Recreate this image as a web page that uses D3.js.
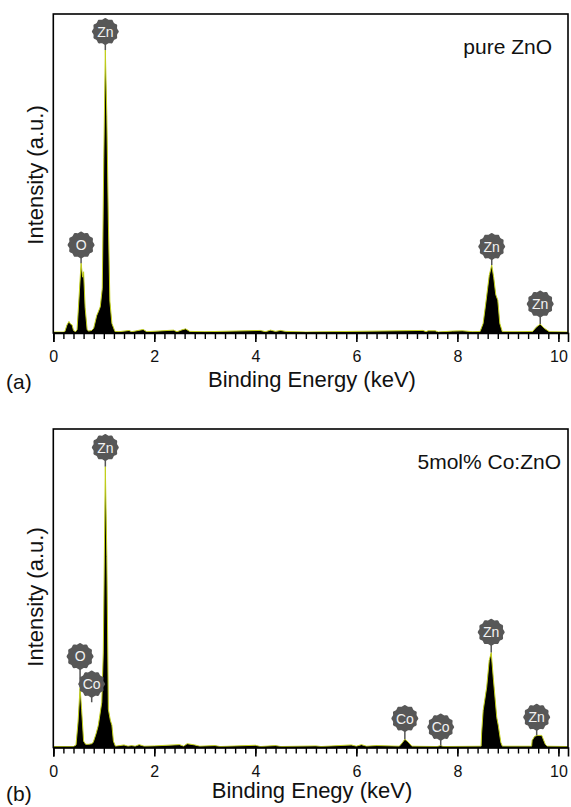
<!DOCTYPE html>
<html>
<head>
<meta charset="utf-8">
<script src="https://cdn.jsdelivr.net/npm/d3@7"></script>
<style>
body { margin: 0; background: #fff; }
svg text { font-family: "Liberation Sans", Arial, sans-serif; fill: #111; }
</style>
</head>
<body>
<svg id="chart" width="571" height="807"></svg>
<script>
// EDS spectrum (a) pure ZnO : energy in keV, intensity in a.u. (0-100 of the frame)
const energyA = [0.00, 0.20, 0.23, 0.27, 0.31, 0.34, 0.37, 0.40, 0.44, 0.47, 0.49, 0.55, 0.58, 0.60, 0.63, 0.67,
    0.70, 0.76, 0.80, 0.86, 0.89, 0.93, 0.97, 1.00, 1.03, 1.06, 1.09, 1.12, 1.16, 1.22, 1.30, 1.50, 1.55,
    1.78, 1.85, 2.38, 2.45, 2.55, 2.62, 2.70, 3.00, 4.10, 4.20, 4.30, 4.40, 4.50, 4.60, 5.00, 7.32, 7.38,
    7.42, 7.56, 7.62, 7.90, 8.10, 8.30, 8.45, 8.51, 8.57, 8.63, 8.68, 8.72, 8.76, 8.80, 8.84, 8.89, 9.20,
    9.49, 9.56, 9.64, 9.72, 9.82, 10.19];
const countsA = [0.3, 0.3, 0.5, 2.5, 3.6, 2.8, 2.6, 0.8, 0.4, 1.0, 6.0, 21.9, 17.5, 19.2, 8.0, 1.0,
    0.6, 0.8, 1.5, 5.5, 6.6, 8.2, 14.0, 55.0, 88.7, 68.0, 35.0, 10.0, 3.0, 0.5, 0.4, 0.8, 0.4,
    1.1, 0.4, 0.9, 0.4, 1.0, 1.3, 0.5, 0.4, 0.8, 0.4, 0.9, 0.5, 0.8, 0.5, 0.3, 0.8, 0.4,
    0.7, 0.7, 0.3, 0.6, 0.7, 0.4, 0.5, 3.0, 10.3, 18.0, 21.3, 17.3, 12.0, 10.3, 3.0, 0.4, 0.4,
    0.5, 1.8, 2.8, 1.5, 0.4, 0.3];

// EDS spectrum (b) 5mol% Co:ZnO
const energyB = [0.00, 0.40, 0.45, 0.49, 0.53, 0.56, 0.60, 0.64, 0.70, 0.76, 0.79, 0.85, 0.89, 0.92, 0.96,
    0.99, 1.03, 1.06, 1.09, 1.13, 1.16, 1.19, 1.23, 1.40, 1.48, 1.55, 1.62, 1.70, 1.80, 2.00, 2.50, 2.58,
    2.65, 2.80, 2.90, 3.20, 3.30, 4.00, 4.10, 4.40, 4.50, 5.20, 5.30, 5.90, 6.00, 6.10, 6.20, 6.40, 6.85,
    6.91, 6.96, 7.02, 7.10, 7.60, 7.67, 7.72, 8.47, 8.48, 8.51, 8.58, 8.63, 8.67, 8.71, 8.78, 8.81, 8.86,
    8.89, 9.47, 9.48, 9.53, 9.58, 9.67, 9.74, 9.78, 10.19];
const countsB = [0.3, 0.3, 0.8, 8.0, 18.8, 12.0, 2.0, 1.0, 1.0, 1.2, 1.6, 4.5, 6.9, 10.0, 14.2,
    30.0, 88.2, 60.0, 12.0, 8.5, 7.0, 2.0, 0.4, 0.8, 0.4, 0.6, 0.4, 0.9, 0.4, 0.5, 0.9, 0.4,
    1.2, 0.8, 0.4, 0.6, 0.3, 0.7, 0.3, 0.6, 0.3, 0.5, 0.3, 0.8, 0.4, 0.9, 0.4, 0.6, 0.4,
    1.5, 2.6, 1.8, 0.4, 0.3, 0.6, 0.3, 0.4, 4.5, 11.6, 18.9, 27.3, 29.8, 22.0, 9.4, 6.9, 1.6,
    0.4, 0.4, 2.2, 3.5, 3.8, 3.8, 1.0, 0.4, 0.3];

// peak labels: element, energy, label centre height, stem end height
const elemA = ['Zn', 'O', 'Zn', 'Zn'];
const elemEnergyA = [1.03, 0.55, 8.68, 9.64];
const elemLabelA = [94.5, 27.6, 27.1, 9.1];
const elemStemA = [88.7, 21.9, 21.3, 2.8];

const elemB = ['Zn', 'O', 'Co', 'Co', 'Co', 'Zn', 'Zn'];
const elemEnergyB = [1.03, 0.53, 0.76, 6.96, 7.67, 8.67, 9.57];
const elemLabelB = [94.2, 28.6, 19.9, 9.1, 6.4, 36.2, 9.5];
const elemStemB = [88.2, 18.8, 14.2, 2.6, 0.6, 29.8, 3.8];

const xTicks = [0, 2, 4, 6, 8, 10];

const svg = d3.select('#chart');
const x = d3.scaleLinear().domain([0, 10.19]).range([53.3, 568]);

// small toothed disc used by the EDS software for peak labels
const gear = d3.lineRadial()
    .angle((d, i) => i / 24 * 2 * Math.PI)
    .radius(d => d)
    .curve(d3.curveCardinalClosed);
const gearRadii = d3.range(24).map(i => i % 2 ? 12.2 : 13.5);

function drawPanel(top, base, energy, counts, elems, elemEnergy, elemLabel, elemStem, tag, sample, sampleX, xTitle, yMid, textDrop) {
    const y = d3.scaleLinear().domain([0, 100]).range([base, top]);
    const g = svg.append('g');
    const pts = energy.map((e, i) => [e, counts[i]]);

    // spectrum: black fill with yellow-green outline
    g.append('path')
        .datum(pts)
        .attr('d', d3.area().x(d => x(d[0])).y0(y(0)).y1(d => y(d[1])))
        .attr('fill', '#000');
    g.append('path')
        .datum(pts)
        .attr('d', d3.line().x(d => x(d[0])).y(d => y(d[1])))
        .attr('fill', 'none')
        .attr('stroke', '#c2cf1a')
        .attr('stroke-width', 1);

    // frame
    g.append('rect')
        .attr('x', x(0)).attr('y', top)
        .attr('width', x(10.19) - x(0)).attr('height', base - top)
        .attr('fill', 'none').attr('stroke', '#000').attr('stroke-width', 1.6);

    // minor ticks every 0.2 keV
    g.append('g')
        .attr('transform', 'translate(0,' + base + ')')
        .call(d3.axisBottom(x).tickValues(d3.range(0, 10.01, 0.2)).tickSize(6).tickFormat(''))
        .call(a => a.select('.domain').remove())
        .call(a => a.selectAll('line').attr('stroke-width', 1.4));

    // major ticks + labels
    g.append('g')
        .attr('transform', 'translate(0,' + base + ')')
        .call(d3.axisBottom(x).tickValues(xTicks).tickSize(9).tickPadding(9).tickFormat(d3.format('d')))
        .call(a => a.select('.domain').attr('stroke-width', 1.6))
        .call(a => a.selectAll('line').attr('stroke-width', 1.6))
        .call(a => a.selectAll('text')
            .style('font-size', '16px')
            .style('font-family', '"Liberation Sans", Arial, sans-serif')
            .attr('fill', '#222'));

    // peak labels
    elems.forEach((el, i) => {
        const cx = x(elemEnergy[i]);
        const cy = y(elemLabel[i]);
        g.append('line')
            .attr('x1', cx).attr('x2', cx)
            .attr('y1', cy + 12).attr('y2', y(elemStem[i]))
            .attr('stroke', '#555').attr('stroke-width', 1.5);
        g.append('path')
            .attr('transform', 'translate(' + cx + ',' + cy + ')')
            .attr('d', gear(gearRadii))
            .attr('fill', '#575757');
        g.append('text')
            .attr('x', cx).attr('y', cy)
            .attr('dy', '0.36em')
            .attr('text-anchor', 'middle')
            .style('font-size', '14px')
            .style('fill', '#f2f2f2')
            .text(el);
    });

    // texts
    g.append('text')
        .attr('transform', 'translate(35,' + yMid + ') rotate(-90)')
        .attr('text-anchor', 'middle')
        .attr('dy', '0.35em')
        .style('font-size', '22px')
        .text('Intensity (a.u.)');
    g.append('text')
        .attr('x', 312).attr('y', base + textDrop)
        .attr('text-anchor', 'middle')
        .attr('dy', '0.35em')
        .style('font-size', '22px')
        .text(xTitle);
    g.append('text')
        .attr('x', 6).attr('y', base + textDrop + 3)
        .attr('dy', '0.35em')
        .style('font-size', '21px')
        .text(tag);
    g.append('text')
        .attr('x', sampleX).attr('y', top + 33)
        .attr('text-anchor', 'end')
        .attr('dy', '0.35em')
        .style('font-size', '21px')
        .text(sample);
}

drawPanel(14, 333, energyA, countsA, elemA, elemEnergyA, elemLabelA, elemStemA,
    '(a)', 'pure ZnO', 552, 'Binding Energy (keV)', 175, 46);
drawPanel(429, 747.5, energyB, countsB, elemB, elemEnergyB, elemLabelB, elemStemB,
    '(b)', '5mol% Co:ZnO', 561, 'Binding Enegy (keV)', 597, 43);
</script>
</body>
</html>
